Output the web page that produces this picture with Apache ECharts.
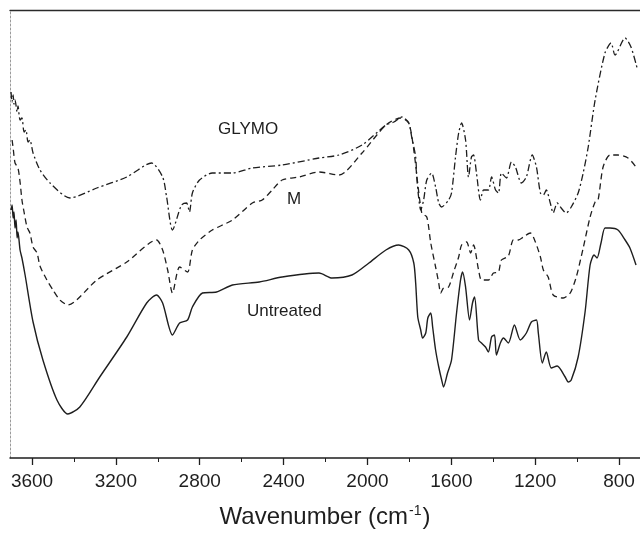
<!DOCTYPE html>
<html>
<head>
<meta charset="UTF-8">
<title>FTIR spectra</title>
<script src="https://cdn.jsdelivr.net/npm/echarts@6/dist/echarts.min.js"></script>
<style>
  html, body { margin: 0; padding: 0; background: #fff; }
  #main { width: 640px; height: 536px; }
</style>
</head>
<body>
<div id="main"></div>
<script>
// wavenumbers (cm-1) and relative transmittance (arbitrary units)
var glymoWave = [3700,3695,3690,3686,3681,3671,3667,3657,3648,3638,3629,3619,3610,3595,3562,3514,3419,3291,3148,3030,2977,2958,2930,2887,2863,2849,2835,2801,2740,2644,2549,2407,2231,2136,2026,1912,1874,1836,1803,1789,1770,1765,1756,1746,1732,1717,1694,1675,1660,1646,1613,1599,1580,1565,1551,1532,1518,1504,1494,1480,1461,1446,1423,1408,1389,1375,1361,1337,1313,1294,1266,1242,1214,1194,1175,1161,1147,1128,1114,1095,1076,1052,1028,995,971,947,914,867,838,819,771,743,714];
var glymoVal = [367,357,364,355,359,347,353,339,341,327,329,317,319,306,289,276,261,271,282,296,282,262,229,254,256,247,266,279,286,286,291,294,301,304,314,334,337,342,336,322,302,282,262,249,259,279,286,272,256,252,259,266,302,326,336,319,282,302,304,286,259,269,269,282,269,266,286,281,297,292,276,282,304,292,266,264,269,256,246,256,251,246,252,266,286,312,359,406,416,404,421,412,391];

var mWave = [3695,3690,3681,3667,3657,3648,3638,3624,3610,3595,3576,3562,3529,3500,3467,3429,3291,3148,3006,2977,2953,2930,2896,2858,2835,2801,2740,2644,2549,2502,2454,2407,2326,2231,2136,2026,1912,1841,1803,1779,1741,1717,1698,1675,1660,1651,1637,1613,1589,1565,1551,1527,1508,1494,1470,1456,1423,1399,1375,1361,1328,1304,1280,1256,1223,1199,1175,1161,1138,1114,1066,1033,1004,971,938,914,900,876,843,805,757,719];
var mVal = [319,311,296,291,277,259,247,232,226,212,206,193,179,169,159,154,179,197,219,209,189,166,192,187,209,219,229,239,256,259,269,279,282,287,284,306,334,341,336,309,246,242,216,192,176,166,171,172,187,202,214,217,206,214,189,179,179,186,187,199,203,219,219,222,226,217,202,189,182,164,161,166,182,211,242,257,259,292,304,304,301,292];

var untreatedWave = [3700,3695,3690,3686,3681,3676,3671,3667,3657,3648,3633,3595,3548,3481,3429,3372,3277,3148,3053,3006,2977,2930,2896,2858,2835,2787,2720,2644,2516,2407,2231,2169,2074,1993,1912,1851,1803,1779,1770,1760,1746,1737,1722,1712,1698,1689,1675,1660,1646,1637,1618,1599,1575,1556,1546,1532,1513,1499,1489,1470,1456,1437,1423,1408,1394,1385,1366,1351,1328,1299,1271,1242,1218,1194,1185,1166,1147,1123,1095,1057,1042,1028,995,962,938,919,905,886,867,843,805,771,748,719];
var untreatedVal = [249,254,241,247,231,239,221,227,209,201,184,137,99,59,45,52,82,122,156,164,156,124,136,139,152,166,167,174,177,182,186,181,184,196,209,214,209,196,176,142,129,121,126,141,146,132,109,92,79,72,86,99,146,179,187,172,139,156,162,119,116,112,107,122,124,104,116,121,116,134,119,126,137,139,126,96,107,91,93,82,77,79,102,147,194,204,201,216,231,231,229,219,211,194];

var majorTicks = [3600, 3200, 2800, 2400, 2000, 1600, 1200, 800];
var minorTicks = [3400, 3000, 2600, 2200, 1800, 1400, 1000];

function pairs(xs, ys) {
  return xs.map(function (x, i) { return [x, ys[i]]; });
}

var font = 'Liberation Sans, Arial, sans-serif';
var ink = '#1e1e1e';

var chart = echarts.init(document.getElementById('main'), null, { renderer: 'canvas' });

chart.setOption({
  backgroundColor: '#ffffff',
  animation: false,
  grid: { left: 10, right: -2, top: 10, bottom: 78, containLabel: false },
  xAxis: [
    {
      type: 'value', inverse: true, min: 700, max: 3705, position: 'bottom',
      name: 'Wavenumber (cm{sup|-1})',
      nameLocation: 'middle', nameGap: 46,
      nameTextStyle: {
        fontFamily: font, fontSize: 24, color: ink,
        rich: { sup: { fontFamily: font, fontSize: 14, color: ink, verticalAlign: 'top', padding: [0, 1, 12, 1] } }
      },
      axisLine: { show: true, lineStyle: { color: ink, width: 1.5 } },
      axisTick: { show: true, inside: false, length: 7, customValues: majorTicks, lineStyle: { color: ink, width: 1.3 } },
      axisLabel: {
        show: true, customValues: majorTicks, margin: 14,
        fontFamily: font, fontSize: 19, color: ink,
        formatter: function (v) { return String(v); }
      },
      splitLine: { show: false }
    },
    {
      type: 'value', inverse: true, min: 700, max: 3705, position: 'bottom',
      axisLine: { show: false },
      axisTick: { show: true, inside: false, length: 4, customValues: minorTicks, lineStyle: { color: ink, width: 1 } },
      axisLabel: { show: false },
      splitLine: { show: false }
    },
    {
      type: 'value', inverse: true, min: 700, max: 3705, position: 'top',
      axisLine: { show: true, lineStyle: { color: '#2a2a2a', width: 1.4 } },
      axisTick: { show: false },
      axisLabel: { show: false },
      splitLine: { show: false }
    }
  ],
  yAxis: {
    type: 'value', min: 1, max: 449,
    axisLine: { show: true, lineStyle: { color: '#9a9a9a', width: 1, type: [2, 2] } },
    axisTick: { show: false },
    axisLabel: { show: false },
    splitLine: { show: false }
  },
  graphic: [
    { type: 'text', left: 218, top: 121, style: { text: 'GLYMO', font: '17px ' + font, fill: ink } },
    { type: 'text', left: 287, top: 191, style: { text: 'M', font: '17px ' + font, fill: ink } },
    { type: 'text', left: 247, top: 303, style: { text: 'Untreated', font: '17px ' + font, fill: ink } }
  ],
  series: [
    {
      name: 'GLYMO', type: 'line', showSymbol: false, silent: true, smooth: 0.25,
      data: pairs(glymoWave, glymoVal),
      lineStyle: { color: ink, width: 1.3, type: [7, 3, 2, 3] }
    },
    {
      name: 'M', type: 'line', showSymbol: false, silent: true, smooth: 0.25,
      data: pairs(mWave, mVal),
      lineStyle: { color: ink, width: 1.3, type: [6, 4] }
    },
    {
      name: 'Untreated', type: 'line', showSymbol: false, silent: true, smooth: 0.25,
      data: pairs(untreatedWave, untreatedVal),
      lineStyle: { color: ink, width: 1.4, type: 'solid' }
    }
  ]
});
</script>
</body>
</html>
